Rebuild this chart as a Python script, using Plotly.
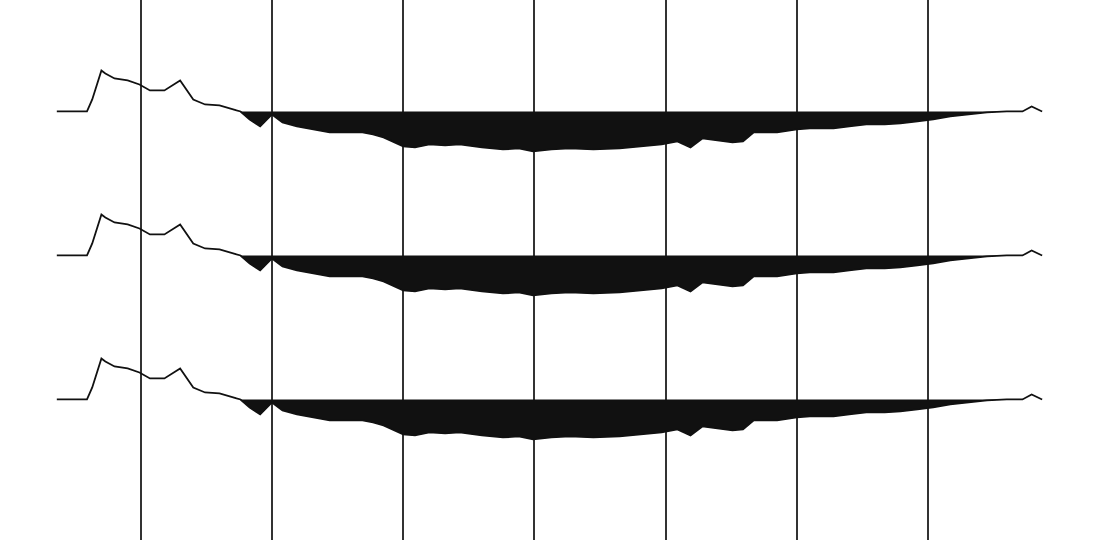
import numpy as np
import plotly.graph_objects as go

# Sample times (ms) and trace amplitude (arbitrary units)
time_ms = [36, 59, 63, 70, 73, 80, 90, 99, 107, 118, 130, 140, 149, 160, 173, 176,
           183, 191, 200, 208, 219, 228, 237, 244, 256, 269, 277, 285, 300, 309, 320,
           332, 343, 360, 376, 388, 399, 413, 427, 445, 465, 483, 497, 509, 519, 528,
           540, 551, 559, 567, 585, 600, 610, 628, 640, 653, 667, 679, 692, 704, 717,
           730, 745, 760, 772, 779, 787]
amplitude = [0, 0, 12, 41, 38, 33, 31, 27, 21, 21, 31, 12, 7, 6, 1, 0,
             -8, -15, -3, -11, -15, -17, -19, -21, -21, -21, -23, -26, -35, -36, -33,
             -34, -33, -36, -38, -37, -40, -38, -37, -38, -37, -35, -33, -30, -36, -27,
             -29, -31, -30, -21, -21, -18, -17, -17, -15, -13, -13, -12, -10, -8, -5,
             -3, -1, 0, 0, 5, 0]

trace_offsets = [0, -1, -2]          # three repeated traces
gridline_times = [100, 200, 300, 400, 500, 600, 700]
gain = 1 / 144.0

t = np.array(time_ms, dtype=float)
a = np.array(amplitude, dtype=float)

fig = go.Figure()
for off in trace_offsets:
    base = np.full_like(t, off)
    neg = off + np.minimum(a, 0) * gain
    fig.add_trace(go.Scatter(x=t, y=base, mode="lines", line=dict(width=0, color="black"),
                             hoverinfo="skip", showlegend=False))
    fig.add_trace(go.Scatter(x=t, y=neg, mode="lines", line=dict(width=0, color="black"),
                             fill="tonexty", fillcolor="#111111",
                             hoverinfo="skip", showlegend=False))
    fig.add_trace(go.Scatter(x=t, y=off + a * gain, mode="lines",
                             line=dict(width=1.8, color="#111111"),
                             showlegend=False))

fig.update_layout(
    width=1100, height=540,
    margin=dict(l=0, r=0, t=0, b=0),
    paper_bgcolor="white", plot_bgcolor="white",
    xaxis=dict(range=[-7.3, 831.1], tickvals=gridline_times, showticklabels=False,
               showgrid=True, gridcolor="#333333", gridwidth=1.6, zeroline=False,
               showline=False, ticks=""),
    yaxis=dict(range=[-2.976, 0.774], showticklabels=False, showgrid=False,
               zeroline=False, showline=False, ticks=""),
)

fig.write_html("out.html", config={"displayModeBar": False},
               post_script="document.body.style.margin='0';document.body.style.overflow='hidden';")
